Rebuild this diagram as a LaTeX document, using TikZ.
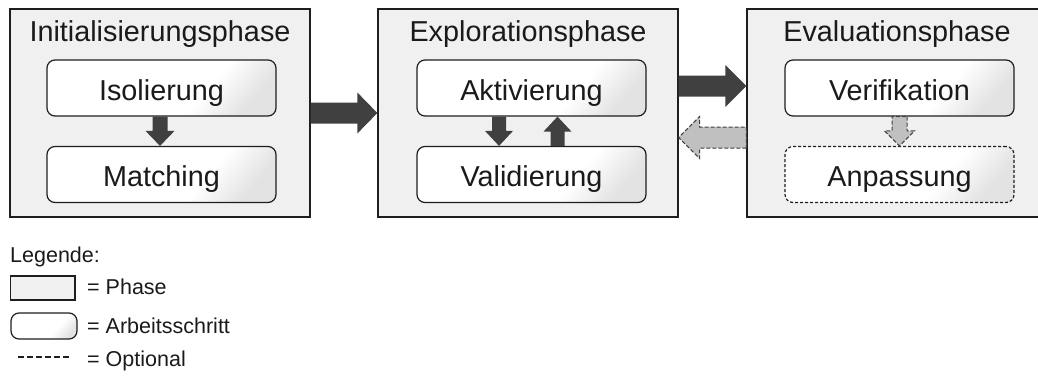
\documentclass[tikz,border=0pt]{standalone}
\usepackage{fontspec}
\setmainfont{Liberation Sans}
\usetikzlibrary{calc}

\definecolor{phasefill}{HTML}{F0F0F0}
\definecolor{arrowdark}{HTML}{404040}
\definecolor{arrowlight}{HTML}{C0C0C0}
\definecolor{linecol}{HTML}{1E1E1E}
\definecolor{textcol}{HTML}{1A1A1A}

% white work-step boxes fading to light grey towards the lower right
\pgfdeclarehorizontalshading{stepshade}{100bp}{color(0bp)=(white); color(62bp)=(white); color(76bp)=(black!11); color(100bp)=(black!11)}

% block arrow: #1 style, #2 start, #3 end, #4 half shaft width, #5 half head width, #6 head length
\newcommand\blockarrow[6]{%
  \coordinate (ba-h) at ($(#3)!#6!(#2)$);
  \path[#1] ($(#2)!#4!90:(#3)$) -- ($(ba-h)!#4!-90:(#2)$) -- ($(ba-h)!#5!-90:(#2)$)
    -- (#3) -- ($(ba-h)!#5!90:(#2)$) -- ($(ba-h)!#4!90:(#2)$) -- ($(#2)!#4!-90:(#3)$) -- cycle;
}

\tikzset{
  phase/.style={draw=linecol, line width=1.3pt, fill=phasefill, rectangle,
    minimum width=300pt, minimum height=208pt, inner sep=0pt},
  phasetitle/.style={font=\fontsize{28.8pt}{34pt}\selectfont, text=textcol, inner sep=0pt, anchor=base},
  stepbox/.style={draw=linecol, line width=1.2pt, rounded corners=8pt, shade, shading=stepshade,
    shading angle=-40, minimum width=229pt, minimum height=56pt, inner sep=0pt,
    text height=24pt, text depth=0pt, font=\fontsize{28.8pt}{34pt}\selectfont, text=textcol},
  optbox/.style={stepbox, dash pattern=on 3pt off 2pt},
  darkarrow/.style={fill=arrowdark},
  lightarrow/.style={fill=arrowlight, draw=arrowdark, line width=1pt, dash pattern=on 4pt off 2pt},
  legtext/.style={font=\fontsize{21.5pt}{25pt}\selectfont, text=textcol, inner sep=0pt, anchor=base west},
  legdash/.style={draw=linecol, line width=1.7pt, dash pattern=on 6pt off 3pt},
}

\begin{document}
\begin{tikzpicture}[x=1pt, y=-1pt]
\useasboundingbox (0,0) rectangle (1038,378);

% phases
\node[phase] (p1) at (160,113) {};
\node[phase] (p2) at (528,113) {};
\node[phase] (p3) at (897,113) {};

\node[phasetitle] (t1) at ([yshift=-33pt]p1.north) {Initialisierungsphase};
\node[phasetitle] (t2) at ([yshift=-33pt]p2.north) {Explorationsphase};
\node[phasetitle] (t3) at ([yshift=-33pt]p3.north) {Evaluationsphase};

% work steps
\node[stepbox] (s1) at (161.5,88) {Isolierung};
\node[stepbox] (s2) at (161.5,174.5) {Matching};
\node[stepbox] (s3) at (531.5,88) {Aktivierung};
\node[stepbox] (s4) at (531.5,174.5) {Validierung};
\node[stepbox] (s5) at (899.5,88) {Verifikation};
\node[optbox]  (s6) at (899.5,174.5) {Anpassung};

% arrows between the phases
\coordinate (a12s) at (p1.east);
\coordinate (a12e) at (p2.west);
\coordinate (a23s) at ([yshift=27pt]p2.east);
\coordinate (a23e) at ([yshift=27pt]p3.west);
\coordinate (a32s) at ([yshift=-24.5pt]p3.west);
\coordinate (a32e) at ([yshift=-24.5pt]p2.east);
\blockarrow{darkarrow}{a12s}{a12e}{10.5pt}{20.5pt}{20pt}
\blockarrow{darkarrow}{a23s}{a23e}{10.5pt}{21pt}{21pt}
\blockarrow{lightarrow}{a32s}{a32e}{10.5pt}{21pt}{21pt}

% arrows between the work steps
\coordinate (b12s) at ([xshift=-1.5pt]s1.south);
\coordinate (b12e) at ([xshift=-1.5pt]s2.north);
\coordinate (b34s) at ([xshift=-32.5pt]s3.south);
\coordinate (b34e) at ([xshift=-32.5pt]s4.north);
\coordinate (b43s) at ([xshift=26pt]s4.north);
\coordinate (b43e) at ([xshift=26pt]s3.south);
\coordinate (b56s) at (s5.south);
\coordinate (b56e) at (s6.north);
\blockarrow{darkarrow}{b12s}{b12e}{7.5pt}{14.5pt}{15pt}
\blockarrow{darkarrow}{b34s}{b34e}{7pt}{14pt}{15pt}
\blockarrow{darkarrow}{b43s}{b43e}{7pt}{14pt}{15pt}
\blockarrow{lightarrow}{b56s}{b56e}{7.5pt}{15pt}{15pt}

% legend
\node[legtext] (lg) at (10,262) {Legende:};
\node[draw=linecol, line width=1.2pt, fill=phasefill, minimum width=64.5pt, minimum height=24pt,
  inner sep=0pt] (lp) at (42.75,288) {};
\node[legtext] (lpt) at (87,294) {= Phase};
\node[draw=linecol, line width=1.2pt, rounded corners=8pt, shade, shading=stepshade, shading angle=-40,
  minimum width=66pt, minimum height=26pt, inner sep=0pt] (la) at (44,326) {};
\node[legtext] (lat) at (87,333) {= Arbeitsschritt};
\coordinate (ld1) at (18,357);
\coordinate (ld2) at (70,357);
\draw[legdash] (ld1) -- (ld2);
\node[legtext] (lot) at (87,366) {= Optional};
\end{tikzpicture}
\end{document}
